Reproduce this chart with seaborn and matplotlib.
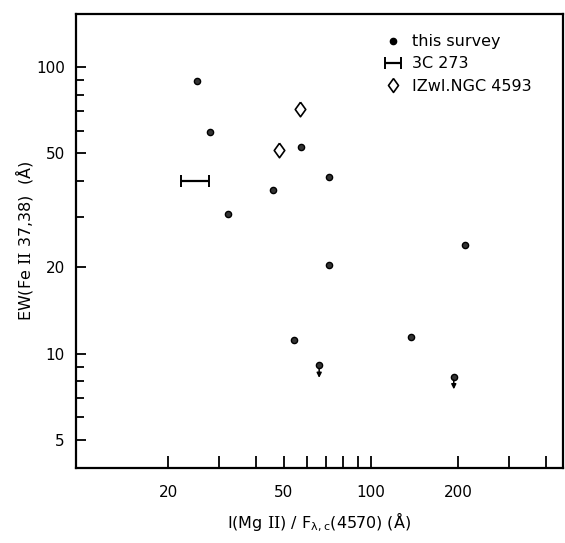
import matplotlib
matplotlib.use("Agg")
import matplotlib.pyplot as plt
import seaborn as sns
import numpy as np
import pandas as pd
from matplotlib.ticker import FixedLocator, NullFormatter, FixedFormatter
from matplotlib.lines import Line2D

# ---- data ----
survey_x = [25.1, 27.9, 32.1, 45.8, 57.1, 71.7, 71.7, 54.4, 137, 211]
survey_y = [89.4, 59.4, 30.6, 37.2, 52.7, 41.2, 20.4, 11.2, 11.4, 23.9]
limit_x = [66.2, 192.8]
limit_y = [9.1, 8.3]
c3c273_xlo = 22.1
c3c273_xhi = 27.7
c3c273_y = 40.0
izw_x = [48.2, 57.0]
izw_y = [51.3, 71.6]

x_major = [20, 50, 100, 200]
x_minor = [30, 40, 60, 70, 80, 90, 300, 400]
y_major = [5, 10, 20, 50, 100]
y_minor = [6, 7, 8, 9, 30, 40, 60, 70, 80, 90]

sns.set_style("ticks")
plt.rcParams['font.family'] = ['DejaVu Sans']
plt.rcParams['mathtext.fontset'] = 'custom'
plt.rcParams['mathtext.rm'] = 'DejaVu Serif'
plt.rcParams['mathtext.it'] = 'DejaVu Sans:italic'
plt.rcParams['mathtext.default'] = 'regular'
for k in ['text.color', 'axes.labelcolor', 'xtick.color', 'ytick.color']:
    plt.rcParams[k] = 'black'

fig = plt.figure(figsize=(5.65, 5.43), dpi=100)
ax = fig.add_axes([0.1345, 0.138, 0.862, 0.836])

dot_kw = dict(color="#333333", s=20, edgecolor="black", linewidth=1.0, zorder=3)
df_s = pd.DataFrame({"x": survey_x + limit_x, "y": survey_y + limit_y})
sns.scatterplot(data=df_s, x="x", y="y", marker="o", ax=ax, legend=False, **dot_kw)

# upper-limit arrows
for xv, yv in zip(limit_x, limit_y):
    ax.annotate("", xy=(xv, yv * 0.905), xytext=(xv, yv * 0.975),
                arrowprops=dict(arrowstyle="-|>", color="black", lw=1.1,
                                mutation_scale=7, shrinkA=0, shrinkB=0))

# 3C 273 range
xc = np.sqrt(c3c273_xlo * c3c273_xhi)
eb = ax.errorbar([xc], [c3c273_y], xerr=[[xc - c3c273_xlo], [c3c273_xhi - xc]],
                 fmt="none", ecolor="black", elinewidth=1.6, capsize=4, capthick=1.4)

# IZw1 / NGC 4593
diamond = [(0, 1), (0.72, 0), (0, -1), (-0.72, 0), (0, 1)]
df_d = pd.DataFrame({"x": izw_x, "y": izw_y})
sns.scatterplot(data=df_d, x="x", y="y", marker=diamond, s=110, facecolor="white",
                edgecolor="black", linewidth=1.2, ax=ax, legend=False, zorder=3)

ax.set_xscale("log")
ax.set_yscale("log")
ax.set_xlim(9.6, 459)
ax.set_ylim(3.99, 153)

ax.xaxis.set_major_locator(FixedLocator(x_major))
ax.xaxis.set_major_formatter(FixedFormatter([str(v) for v in x_major]))
ax.xaxis.set_minor_locator(FixedLocator(x_minor))
ax.xaxis.set_minor_formatter(NullFormatter())
ax.yaxis.set_major_locator(FixedLocator(y_major))
ax.yaxis.set_major_formatter(FixedFormatter([str(v) for v in y_major]))
ax.yaxis.set_minor_locator(FixedLocator(y_minor))
ax.yaxis.set_minor_formatter(NullFormatter())

ax.tick_params(axis="x", which="both", direction="in", length=8.5, width=1.3,
               labelsize=11, pad=12, top=False)
ax.tick_params(axis="y", which="major", direction="in", length=7.5, width=1.3,
               labelsize=11, pad=8, right=False)
ax.tick_params(axis="y", which="minor", direction="in", length=6, width=1.3, right=False)

for sp in ax.spines.values():
    sp.set_linewidth(1.6)
    sp.set_color("black")

ax.set_xlabel(r"I(Mg $\mathrm{II}$) / F$_{\lambda,c}$(4570) (Å)", fontsize=11.5, labelpad=8)
ax.set_ylabel(r"EW(Fe $\mathrm{II}$ 37,38)  (Å)", fontsize=11.5, labelpad=1)

handles = [
    Line2D([], [], marker="o", linestyle="none", color="black", markersize=4.5),
    eb,
    Line2D([], [], marker=diamond, linestyle="none", markerfacecolor="white",
           markeredgecolor="black", markersize=10, markeredgewidth=1.2),
]
labels = ["this survey", "3C 273", "IZwl.NGC 4593"]
leg = ax.legend(handles, labels, loc="upper left", bbox_to_anchor=(0.612, 0.97),
                frameon=False, fontsize=11.5, handlelength=1.6, handletextpad=0.4,
                labelspacing=0.45, borderaxespad=0)

fig.savefig("out.png", dpi=100)
